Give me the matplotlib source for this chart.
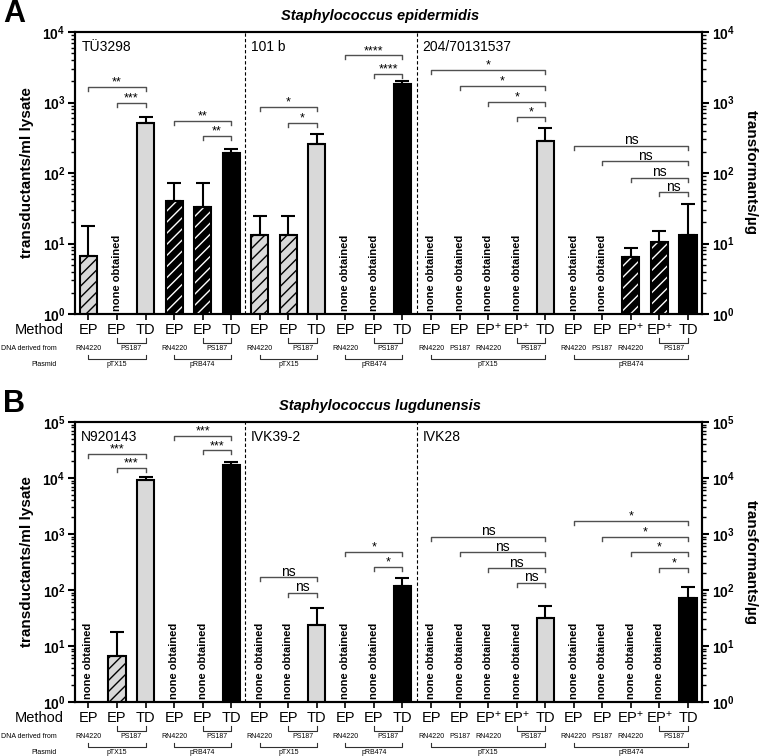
import numpy as np
import matplotlib
matplotlib.use('Agg')
import matplotlib.pyplot as plt
from matplotlib import transforms
from matplotlib.ticker import LogLocator, FuncFormatter, NullFormatter

plt.rcParams['font.family'] = ['Liberation Sans', 'DejaVu Sans']
plt.rcParams['mathtext.fontset'] = 'custom'
plt.rcParams['mathtext.rm'] = 'Liberation Sans'
plt.rcParams['mathtext.bf'] = 'Liberation Sans:bold'
plt.rcParams['mathtext.it'] = 'Liberation Sans:italic'
plt.rcParams['hatch.linewidth'] = 1.0

nan = np.nan

# layout shared by both panels
methods = ['EP', 'EP', 'TD', 'EP', 'EP', 'TD',
           'EP', 'EP', 'TD', 'EP', 'EP', 'TD',
           'EP', 'EP', 'EP+', 'EP+', 'TD', 'EP', 'EP', 'EP+', 'EP+', 'TD']
plasmids = (['pTX15'] * 3 + ['pRB474'] * 3 + ['pTX15'] * 3 + ['pRB474'] * 3
            + ['pTX15'] * 5 + ['pRB474'] * 5)
donor_spans = [(0, 0, 'RN4220'), (1, 2, 'PS187'), (3, 3, 'RN4220'), (4, 5, 'PS187'),
               (6, 6, 'RN4220'), (7, 8, 'PS187'), (9, 9, 'RN4220'), (10, 11, 'PS187'),
               (12, 12, 'RN4220'), (13, 13, 'PS187'), (14, 14, 'RN4220'), (15, 16, 'PS187'),
               (17, 17, 'RN4220'), (18, 18, 'PS187'), (19, 19, 'RN4220'), (20, 21, 'PS187')]
plasmid_spans = [(0, 2, 'pTX15'), (3, 5, 'pRB474'), (6, 8, 'pTX15'), (9, 11, 'pRB474'),
                 (12, 16, 'pTX15'), (17, 21, 'pRB474')]
group_breaks = [5.5, 11.5]

# panel A - S. epidermidis
a_title = 'Staphylococcus epidermidis'
a_strains = ['TÜ3298', '101 b', '204/70131537']
a_values = [6.6, nan, 520, 40, 33, 195,
            13.2, 13.2, 262, nan, nan, 1850,
            nan, nan, nan, nan, 285, nan, nan, 6.5, 10.4, 13.2]
a_err_top = [17.6, nan, 630, 72, 72, 220,
             24.5, 24.5, 358, nan, nan, 1990,
             nan, nan, nan, nan, 435, nan, nan, 8.6, 14.8, 36]
a_sig = [(0, 2, 1650, '**'), (1, 2, 980, '***'), (3, 5, 545, '**'), (4, 5, 340, '**'),
         (6, 8, 870, '*'), (7, 8, 520, '*'), (9, 11, 4650, '****'), (10, 11, 2550, '****'),
         (12, 16, 2900, '*'), (13, 16, 1730, '*'), (14, 16, 1020, '*'), (15, 16, 625, '*'),
         (17, 21, 245, 'ns'), (18, 21, 147, 'ns'), (19, 21, 86, 'ns'), (20, 21, 53, 'ns')]

# panel B - S. lugdunensis
b_title = 'Staphylococcus lugdunensis'
b_strains = ['N920143', 'IVK39-2', 'IVK28']
b_values = [nan, 6.7, 9200, nan, nan, 17000,
            nan, nan, 23.7, nan, nan, 118,
            nan, nan, nan, nan, 31, nan, nan, nan, nan, 72]
b_err_top = [nan, 18, 10600, nan, nan, 19600,
             nan, nan, 48, nan, nan, 162,
             nan, nan, nan, nan, 51, nan, nan, nan, nan, 115]
b_sig = [(0, 2, 26800, '***'), (1, 2, 14900, '***'), (3, 5, 56000, '***'), (4, 5, 31000, '***'),
         (6, 8, 170, 'ns'), (7, 8, 90, 'ns'), (9, 11, 485, '*'), (10, 11, 257, '*'),
         (12, 16, 900, 'ns'), (13, 16, 470, 'ns'), (14, 16, 245, 'ns'), (15, 16, 136, 'ns'),
         (17, 21, 1730, '*'), (18, 21, 900, '*'), (19, 21, 470, '*'), (20, 21, 245, '*')]

LIGHT = '#d9d9d9'
W, H = 760, 756

fig = plt.figure(figsize=(W / 100, H / 100), dpi=100)


def pow_fmt(v, pos):
    return r'$\mathbf{10^{%d}}$' % int(round(np.log10(v)))


def draw_panel(rect, letter, title, strains, values, err_top, sig, ymax):
    ax = fig.add_axes(rect)
    x = np.arange(len(methods))
    ax_h_px = rect[3] * H
    ndec = np.log10(ymax)
    dec_per_px = ndec / ax_h_px

    for i in x:
        v = values[i]
        if np.isnan(v):
            ax.text(i, 0.012, 'none obtained', rotation=90, ha='center', va='bottom',
                    fontsize=8, fontweight='bold', transform=transforms.blended_transform_factory(
                        ax.transData, ax.transAxes))
            continue
        light = plasmids[i] == 'pTX15'
        hatched = methods[i].startswith('EP')
        if light:
            ax.bar(i, v, width=0.6, bottom=0, color=LIGHT, edgecolor='black', linewidth=1.5,
                   hatch='///' if hatched else None, zorder=2)
        elif hatched:
            ax.bar(i, v, width=0.6, color='black', edgecolor='white', linewidth=0,
                   hatch='///', zorder=2)
            ax.bar(i, v, width=0.6, color='none', edgecolor='black', linewidth=1.5, zorder=3)
        else:
            ax.bar(i, v, width=0.6, color='black', edgecolor='black', linewidth=1.5, zorder=2)
        ax.errorbar(i, v, yerr=[[0], [err_top[i] - v]], color='black', elinewidth=1.5,
                    capsize=5, capthick=1.5, zorder=4)

    ax.set_yscale('log')
    ax.set_ylim(1, ymax)
    ax.set_xlim(-0.47, len(methods) - 0.51)

    for xb in group_breaks:
        ax.axvline(xb, color='black', lw=0.8, ls=(0, (3, 2)), zorder=1)

    # significance brackets
    tick = 10 ** (-4 * dec_per_px)
    for x1, x2, y, lab in sig:
        ax.plot([x1, x1, x2, x2], [y * tick, y, y, y * tick], color='#505050', lw=1,
                clip_on=False, zorder=5)
        ax.annotate(lab, xy=((x1 + x2) / 2, y), xytext=(0, 1.5), textcoords='offset pixels',
                    ha='center', va='baseline', fontsize=10 if lab == 'ns' else 9)

    # strain names
    for xs, s in zip([-0.25, 5.7, 11.7], strains):
        ax.text(xs, 1 - 15 / ax_h_px, s, ha='left', va='center', fontsize=10,
                transform=transforms.blended_transform_factory(ax.transData, ax.transAxes))

    # axes styling
    for sp in ax.spines.values():
        sp.set_linewidth(1.5)
    ax.set_xticks(x)
    ax.set_xticklabels([])
    ax.tick_params(axis='x', length=4, width=1.2, direction='out')
    ax.yaxis.set_major_locator(LogLocator(base=10, numticks=10))
    ax.yaxis.set_minor_locator(LogLocator(base=10, subs=np.arange(2, 10), numticks=20))
    ax.yaxis.set_major_formatter(FuncFormatter(pow_fmt))
    ax.yaxis.set_minor_formatter(NullFormatter())
    ax.tick_params(axis='y', which='major', length=5, width=1.5, labelsize=10, pad=2)
    ax.tick_params(axis='y', which='minor', length=3, width=1)

    ax2 = ax.twinx()
    ax2.set_yscale('log')
    ax2.set_ylim(1, ymax)
    ax2.yaxis.set_major_locator(LogLocator(base=10, numticks=10))
    ax2.yaxis.set_minor_locator(LogLocator(base=10, subs=np.arange(2, 10), numticks=20))
    ax2.yaxis.set_major_formatter(FuncFormatter(pow_fmt))
    ax2.yaxis.set_minor_formatter(NullFormatter())
    ax2.tick_params(axis='y', which='major', length=5, width=1.5, labelsize=10, pad=2)
    ax2.tick_params(axis='y', which='minor', length=3, width=1)
    for sp in ax2.spines.values():
        sp.set_linewidth(1.5)

    # rows below the axis
    tb = transforms.blended_transform_factory(ax.transData, ax.transAxes)

    def fy(px):
        return -px / ax_h_px

    for i, m in enumerate(methods):
        lab = 'EP$^{+}$' if m == 'EP+' else m
        ax.text(i, fy(16), lab, ha='center', va='center', fontsize=10.5, transform=tb)
    ax.text(-0.88, fy(16), 'Method', ha='right', va='center', fontsize=10.5, transform=tb)
    ax.text(-1.1, fy(35), 'DNA derived from', ha='right', va='center', fontsize=5, transform=tb)
    ax.text(-1.1, fy(51), 'Plasmid', ha='right', va='center', fontsize=5, transform=tb)

    for a, b, lab in donor_spans:
        if b > a:
            ax.plot([a, a, b, b], [fy(24), fy(29), fy(29), fy(24)], color='#303030', lw=0.8,
                    transform=tb, clip_on=False)
        ax.text((a + b) / 2, fy(35), lab, ha='center', va='center', fontsize=5, transform=tb)
    for a, b, lab in plasmid_spans:
        ax.plot([a, a, b, b], [fy(41), fy(45), fy(45), fy(41)], color='#303030', lw=0.8,
                transform=tb, clip_on=False)
        ax.text((a + b) / 2, fy(51), lab, ha='center', va='center', fontsize=5, transform=tb)

    # panel letter and title
    top_px = (1 - rect[1] - rect[3]) * H
    fig.text(0.004, 1 - (top_px - 18) / H, letter, fontsize=22, fontweight='bold',
             ha='left', va='center')
    fig.text(0.5, 1 - (top_px - 16) / H, title, fontsize=10.5, fontweight='bold',
             style='italic', ha='center', va='center')
    yc = rect[1] + rect[3] / 2
    fig.text(27 / W, yc, 'transductants/ml lysate', rotation=90, fontsize=11,
             fontweight='bold', ha='center', va='center')
    fig.text(751 / W, yc, 'transformants/µg', rotation=270, fontsize=11,
             fontweight='bold', ha='center', va='center')
    return ax


draw_panel([75 / W, 1 - 314 / H, 627 / W, 282 / H], 'A', a_title, a_strains,
           a_values, a_err_top, a_sig, 1e4)
draw_panel([75 / W, 1 - 702 / H, 627 / W, 280 / H], 'B', b_title, b_strains,
           b_values, b_err_top, b_sig, 1e5)

fig.savefig('out.png', dpi=100)
